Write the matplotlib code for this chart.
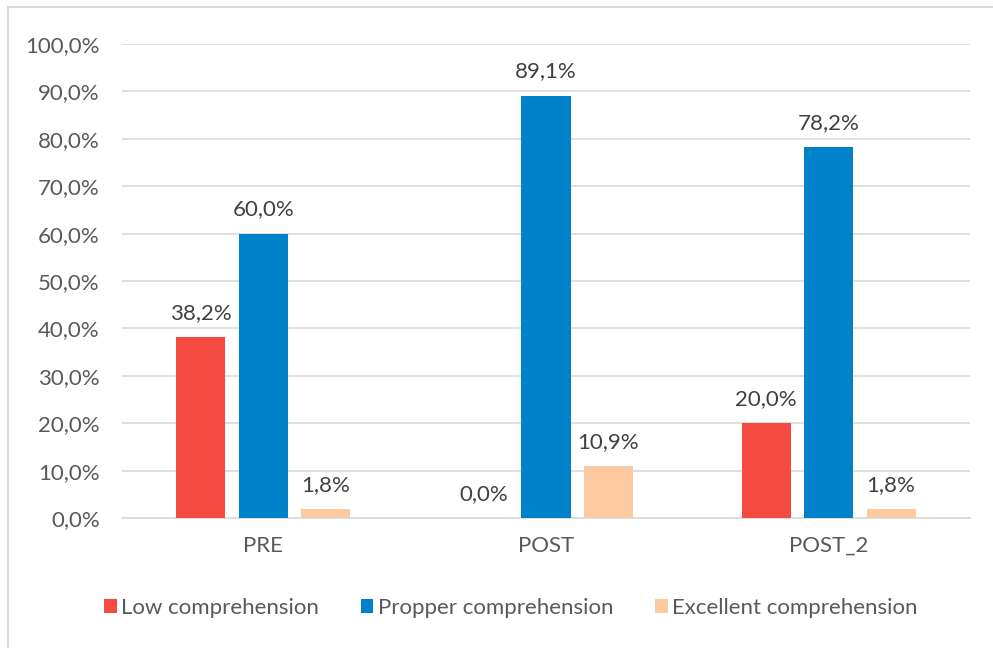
import numpy as np
import matplotlib.pyplot as plt
from matplotlib.patches import Rectangle

plt.rcParams['font.family'] = ['Lato', 'DejaVu Sans']

#chart data
categories = ['PRE', 'POST', 'POST_2']
series_names = ['Low comprehension', 'Propper comprehension', 'Excellent comprehension']
low = [38.2, 0.0, 20.0]
propper = [60.0, 89.1, 78.2]
excellent = [1.8, 10.9, 1.8]
colors = ['#F44A40', '#0082CA', '#FCC9A0']

fig = plt.figure(figsize=(9.93, 6.48), dpi=100)
#outer light frame like the spreadsheet chart area
fig.patches.append(Rectangle((8/993, -0.1), 1.2, 1.1 - 7/648, transform=fig.transFigure,
                             fill=False, edgecolor='#D9D9D9', linewidth=1.5))

ax = fig.add_axes([122/993, 1 - 518/648, 848/993, (518 - 44)/648])

x = np.arange(len(categories))
width = 0.174
step = 0.221
for i, (vals, name) in enumerate(zip([low, propper, excellent], series_names)):
    pos = x + (i - 1) * step
    ax.bar(pos, vals, width, color=colors[i], label=name, zorder=3)
    for p, v in zip(pos, vals):
        ax.text(p, v + 3.0, ('%.1f%%' % v).replace('.', ','), ha='center', va='bottom',
                fontsize=16, color='#404040')

ax.set_xlim(-0.5, 2.5)
ax.set_ylim(0, 100)
ax.set_yticks(np.arange(0, 101, 10))
ax.set_yticklabels([('%.1f%%' % t).replace('.', ',') for t in np.arange(0, 101, 10)])
ax.set_xticks(x)
ax.set_xticklabels(categories)
ax.grid(axis='y', color='#D9D9D9', linewidth=1.2, zorder=0)
for s in ['top', 'right', 'left']:
    ax.spines[s].set_visible(False)
ax.spines['bottom'].set_color('#D9D9D9')
ax.spines['bottom'].set_linewidth(1.2)
ax.tick_params(axis='both', length=0, labelsize=16, labelcolor='#595959')
ax.tick_params(axis='y', pad=16)
ax.tick_params(axis='x', pad=13)

fig.legend(loc='center', bbox_to_anchor=(511/993, 1 - 608/648), ncol=3, frameon=False,
           fontsize=16, labelcolor='#595959', handlelength=0.55, handleheight=0.55,
           handletextpad=0.2, columnspacing=1.9)

fig.savefig('out.png', dpi=100)
